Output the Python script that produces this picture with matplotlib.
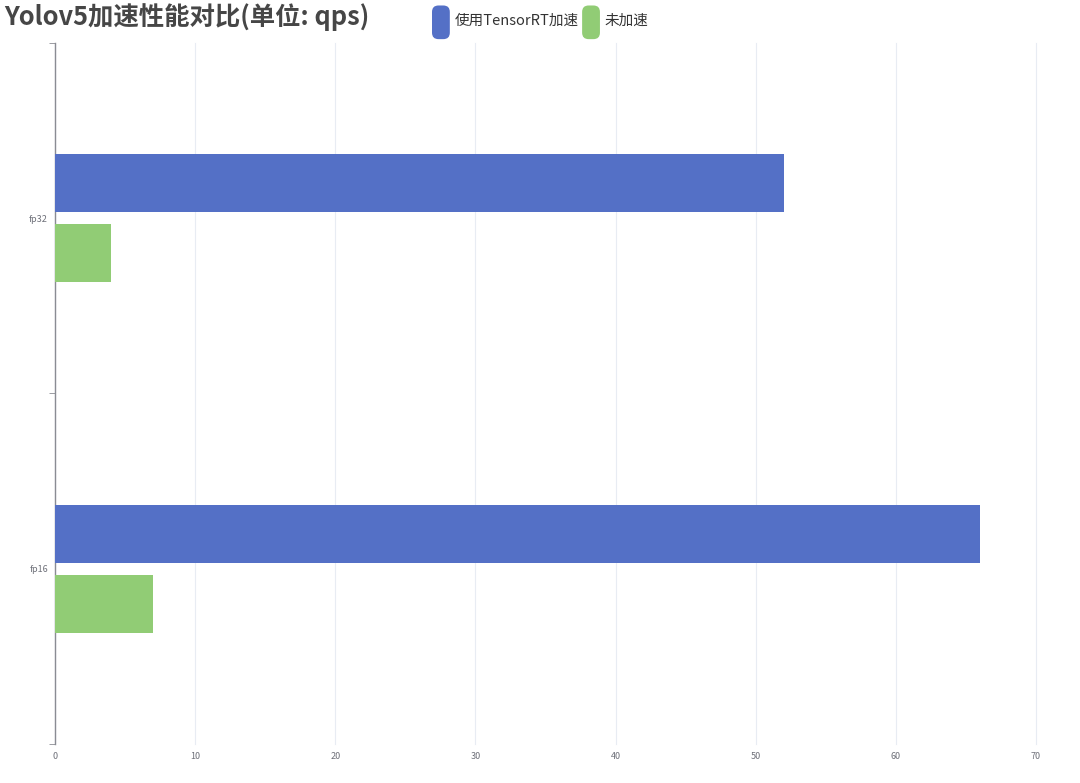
import matplotlib
matplotlib.use("Agg")
import matplotlib.pyplot as plt
from matplotlib.patches import FancyBboxPatch

plt.rcParams["font.family"] = ["Noto Sans CJK SC", "DejaVu Sans"]

# 数据
categories = ["fp16", "fp32"]
series_names = ["使用TensorRT加速", "未加速"]
trt_values = [66, 52]
plain_values = [7, 4]
colors = ["#5470c6", "#91cc75"]

fig = plt.figure(figsize=(10.8, 7.83), dpi=100)
ax = fig.add_axes([0.0509, 0.0498, 0.9083, 0.8953])

y = list(range(len(categories)))
bar_h = 0.165
ax.barh([v + 0.1 for v in y], trt_values, height=bar_h, color=colors[0], zorder=3)
ax.barh([v - 0.1 for v in y], plain_values, height=bar_h, color=colors[1], zorder=3)

ax.set_xlim(0, 70)
ax.set_ylim(-0.5, len(categories) - 0.5)
ax.set_xticks(range(0, 71, 10))
ax.set_yticks(y)
ax.set_yticklabels(categories)
ax.set_yticks([-0.5, 0.5, 1.5], minor=True)

ax.grid(axis="x", color="#E8ECF3", linewidth=0.8, zorder=0)
for gl in ax.get_xgridlines():
    gl.set_clip_on(False)
for s in ["top", "right", "bottom"]:
    ax.spines[s].set_visible(False)
ax.spines["left"].set_color("#8A8C93")
ax.spines["left"].set_linewidth(1)

ax.tick_params(axis="x", length=0, labelsize=6.5, labelcolor="#6E7079", pad=6)
ax.tick_params(axis="y", which="major", length=0, labelsize=6.5,
               labelcolor="#6E7079", pad=5)
ax.tick_params(axis="y", which="minor", length=4, color="#8A8C93")

# 标题
fig.text(0.004, 0.978, "Yolov5加速性能对比(单位: qps)", fontsize=18.3,
         fontweight="bold", color="#464646", va="center", ha="left")

# 图例
legend_items = [(0.400, series_names[0]), (0.539, series_names[1])]
for (lx, name), c in zip(legend_items, colors):
    box = FancyBboxPatch((lx, 0.950), 0.0165, 0.043,
                         boxstyle="round,pad=0,rounding_size=0.006",
                         transform=fig.transFigure, facecolor=c,
                         edgecolor="none", mutation_aspect=1.38)
    fig.patches.append(box)
    fig.text(lx + 0.021, 0.973, name, fontsize=10.5, color="#333333",
             va="center", ha="left")

fig.savefig("out.png", dpi=100)
